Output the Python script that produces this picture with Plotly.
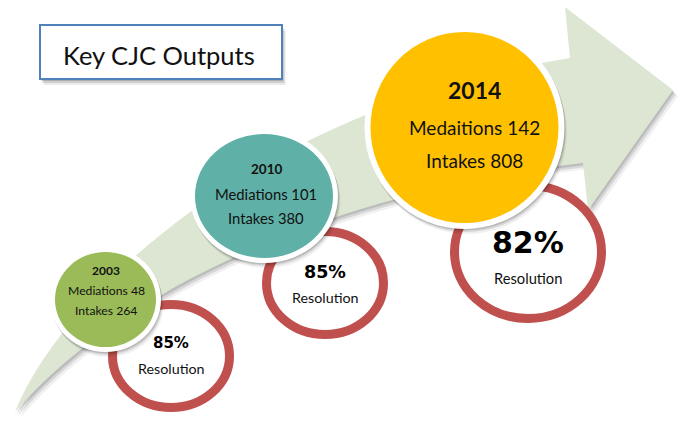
import plotly.graph_objects as go

# ---- data ----
years = ["2003", "2010", "2014"]
mediation_words = ["Mediations", "Mediations", "Medaitions"]
mediations = [48, 101, 142]
intakes = [264, 380, 808]
resolution_pct = [85, 85, 82]
title_text = "Key CJC Outputs"

# ---- layout (pixel space, y down) ----
W, H = 686, 421
OFF = 8  # page body margin offset
bubble_fill = ["#9BBB59", "#5FB0A6", "#FFC000"]
bubble_cx = [105.5, 264, 464.5]
bubble_cy = [299.5, 196, 127.5]
bubble_rx = [50.5, 69, 94]
bubble_ry = [47.5, 62, 95.5]
bubble_border = [5, 5, 6]
text_cx = [106, 266, 474]
year_y = [270, 169, 90]
med_y = [290, 194, 127]
int_y = [310, 218, 160]
year_size = [12, 13.5, 23]
line_size = [12.2, 14.8, 19]

ring_cx = [171, 325, 528]
ring_cy = [356, 283, 252]
ring_rx = [63, 63, 78]
ring_ry = [56, 56, 71]
ring_w = 9
pct_y = [343, 272, 242]
res_y = [368, 297, 278]
pct_size = [15, 17.5, 30]
res_size = [14.3, 14.3, 14.7]

ARROW = "#DCE6D2"
RED = "#C0504D"
BLUE = "#4F81BD"
SANS = "Lato, 'Open Sans', sans-serif"
BOLD = "'DejaVu Sans', sans-serif"

shapes = []


def arrow_path(dx=0, dy=0):
    pts = [(15, 412), (60, 300), (250, 110), (570, 58), (565, 7), (673, 90),
           (588, 210), (583, 163), (350, 190), (130, 280), (15, 412)]
    p = [(x + dx, y + dy) for x, y in pts]
    return ("M {} {} C {} {} {} {} {} {} L {} {} L {} {} L {} {} L {} {} "
            "C {} {} {} {} {} {} Z").format(*[v for xy in p for v in xy])


for dx, dy, op in [(5, 6, 0.06), (3, 4, 0.10), (1.5, 2, 0.12)]:
    shapes.append(dict(type="path", path=arrow_path(dx, dy), xref="x", yref="y",
                       fillcolor=f"rgba(0,0,0,{op})", line=dict(width=0), layer="above"))
shapes.append(dict(type="path", path=arrow_path(), xref="x", yref="y",
                   fillcolor=ARROW, line=dict(width=0), layer="above"))

# title box
for d, op in [(6, 0.08), (4, 0.12), (2, 0.15)]:
    shapes.append(dict(type="rect", xref="x", yref="y", x0=40+d*0.6, x1=282+d*0.6,
                       y0=25+d, y1=79+d, fillcolor=f"rgba(0,0,0,{op})",
                       line=dict(width=0), layer="above"))
shapes.append(dict(type="rect", xref="x", yref="y", x0=40, x1=282, y0=25, y1=79,
                   fillcolor="white", line=dict(color=BLUE, width=2), layer="above"))

# resolution rings
for i in range(3):
    rx = ring_rx[i] - ring_w / 2
    ry = ring_ry[i] - ring_w / 2
    shapes.append(dict(type="circle", xref="x", yref="y",
                       x0=ring_cx[i]-rx, x1=ring_cx[i]+rx,
                       y0=ring_cy[i]-ry, y1=ring_cy[i]+ry,
                       fillcolor="white", line=dict(color=RED, width=ring_w),
                       layer="above"))

# bubbles with shadow + white border
for i in range(3):
    b = bubble_border[i]
    cx, cy, rx, ry = bubble_cx[i], bubble_cy[i], bubble_rx[i] + b, bubble_ry[i] + b
    for d, op in [(5, 0.06), (3, 0.10), (1.5, 0.14)]:
        shapes.append(dict(type="circle", xref="x", yref="y",
                           x0=cx-rx+d*0.5, x1=cx+rx+d*0.5, y0=cy-ry+d, y1=cy+ry+d,
                           fillcolor=f"rgba(0,0,0,{op})", line=dict(width=0),
                           layer="above"))
    shapes.append(dict(type="circle", xref="x", yref="y",
                       x0=cx-rx, x1=cx+rx, y0=cy-ry, y1=cy+ry,
                       fillcolor="white", line=dict(width=0), layer="above"))
    shapes.append(dict(type="circle", xref="x", yref="y",
                       x0=cx-bubble_rx[i], x1=cx+bubble_rx[i],
                       y0=cy-bubble_ry[i], y1=cy+bubble_ry[i],
                       fillcolor=bubble_fill[i], line=dict(width=0), layer="above"))

annotations = [dict(x=159, y=55, text=title_text,
                    font=dict(family=SANS, size=25.5, color="#111"))]
for i in range(3):
    annotations += [
        dict(x=text_cx[i], y=year_y[i], text=f"<b>{years[i]}</b>",
             font=dict(family=SANS, size=year_size[i], color="#111")),
        dict(x=text_cx[i], y=med_y[i], text=f"{mediation_words[i]} {mediations[i]}",
             font=dict(family=SANS, size=line_size[i], color="#111")),
        dict(x=text_cx[i], y=int_y[i], text=f"Intakes {intakes[i]}",
             font=dict(family=SANS, size=line_size[i], color="#111")),
        dict(x=ring_cx[i], y=pct_y[i], text=f"<b>{resolution_pct[i]}%</b>",
             font=dict(family=BOLD, size=pct_size[i], color="#000")),
        dict(x=ring_cx[i], y=res_y[i], text="Resolution",
             font=dict(family=SANS, size=res_size[i], color="#111")),
    ]
for a in annotations:
    a.update(xref="x", yref="y", showarrow=False)

fig = go.Figure()
fig.add_trace(go.Scatter(x=[OFF, W], y=[OFF, H], mode="markers",
                         marker=dict(opacity=0), hoverinfo="skip", showlegend=False))
fig.update_layout(
    width=W, height=H, margin=dict(l=0, r=0, t=0, b=0),
    paper_bgcolor="white", plot_bgcolor="white",
    xaxis=dict(range=[OFF, W + OFF], visible=False, fixedrange=True),
    yaxis=dict(range=[H + OFF, OFF], visible=False, fixedrange=True),
    shapes=shapes, annotations=annotations, showlegend=False,
)
fig.write_html("out.html")
